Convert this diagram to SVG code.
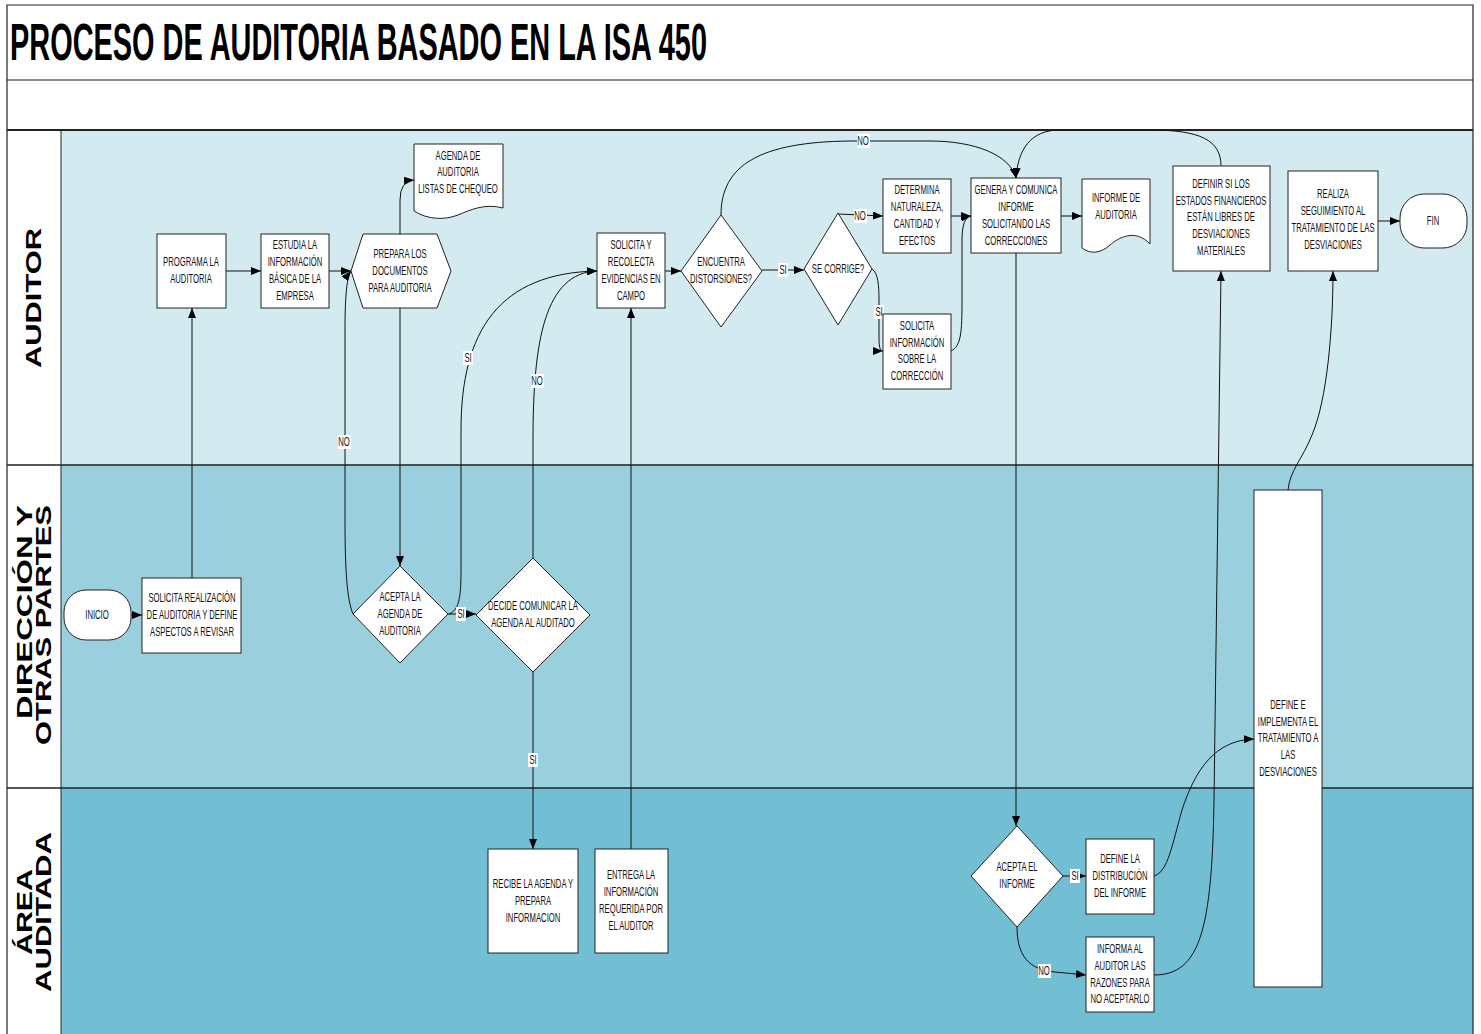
<svg xmlns="http://www.w3.org/2000/svg" width="1481" height="1034" viewBox="0 0 1481 1034">
<style>
.t{font-family:"Liberation Sans",Arial,sans-serif;font-size:12px;fill:#111;text-anchor:middle}
.n{fill:#fff;stroke:#222;stroke-width:1}
.c{fill:none;stroke:#111;stroke-width:1;marker-end:url(#arr)}
.cl{fill:none;stroke:#111;stroke-width:1}
.lb{fill:#fff}
.lane{font-family:"Liberation Sans",Arial,sans-serif;font-weight:bold;font-size:22px;fill:#000}
.b{stroke:#222;fill:none}
</style>
<defs>
<marker id="arr" viewBox="0 0 10 8" refX="10" refY="4" markerUnits="userSpaceOnUse" markerWidth="10" markerHeight="8" orient="auto">
<path d="M0,0 L10,4 L0,8 Z" fill="#000"/>
</marker>
</defs>
<rect x="0" y="0" width="1481" height="1034" fill="#fff"/>
<!-- lanes -->
<rect x="61" y="130" width="1412" height="335" fill="#D2EAF0"/>
<rect x="61" y="465" width="1412" height="323" fill="#9AD0DE"/>
<rect x="61" y="788" width="1412" height="246" fill="#72BFD4"/>
<path class="b" d="M7,1034 V5 H1473 V1034" stroke-width="1.2"/>
<path class="b" d="M7,80 H1473" stroke-width="1.2"/>
<path class="b" d="M7,130 H1473" stroke-width="2"/>
<path class="b" d="M7,465 H1473 M7,788 H1473" stroke-width="1.5"/>
<path class="b" d="M61,130 V1034" stroke-width="1" stroke="#777"/>
<text x="10" y="60" font-family="'Liberation Sans',Arial,sans-serif" font-weight="bold" font-size="52" textLength="697" lengthAdjust="spacingAndGlyphs">PROCESO DE AUDITORIA BASADO EN LA ISA 450</text>
<g id="lane-labels">
<text class="lane" transform="translate(41,298) rotate(-90)" text-anchor="middle" textLength="140" lengthAdjust="spacingAndGlyphs">AUDITOR</text>
<text class="lane" transform="translate(32,505) rotate(-90)" text-anchor="end" textLength="214" lengthAdjust="spacingAndGlyphs">DIRECCIÓN Y</text>
<text class="lane" transform="translate(51,505) rotate(-90)" text-anchor="end" textLength="240" lengthAdjust="spacingAndGlyphs">OTRAS PARTES</text>
<text class="lane" transform="translate(32,912) rotate(-90)" text-anchor="middle" textLength="86" lengthAdjust="spacingAndGlyphs">ÁREA</text>
<text class="lane" transform="translate(51,912) rotate(-90)" text-anchor="middle" textLength="160" lengthAdjust="spacingAndGlyphs">AUDITADA</text>
</g>
<!-- connectors -->
<g id="connectors">
<path class="c" d="M192,578 V308"/>
<path class="c" d="M131,615 H142"/>
<path class="c" d="M226,271 H261"/>
<path class="c" d="M329,271 H351"/>
<path class="c" d="M400,234 V200 Q400,181 414,180"/>
<path class="c" d="M400,308 V566"/>
<path class="c" d="M353,614 C347,600 345,570 345,520 L345,330 C345,295 347,276 351,271"/>
<path class="c" d="M448,614 H476"/>
<path class="c" d="M449,614 C459,610 461,598 461,570 L461,430 C461,330 500,273 597,271"/>
<path class="c" d="M533,558 V440 C533,340 545,273 597,271"/>
<path class="c" d="M533,672 V849"/>
<path class="c" d="M631,849 V308"/>
<path class="c" d="M665,271 H681"/>
<path class="c" d="M762,270 H804"/>
<path class="c" d="M721,215 C721,165 760,142 850,141 L930,141 C975,141 1010,155 1016,178"/>
<path class="c" d="M838,214 L883,216"/>
<path class="c" d="M872,269 C878,273 879,285 879,300 L879,338 C879,347 880,351 883,351"/>
<path class="c" d="M951,216 H971"/>
<path class="c" d="M951,351 C961,346 962,333 962,300 L962,240 C962,225 965,217 971,216"/>
<path class="c" d="M1061,216 H1082"/>
<path class="c" d="M1016,253 V826"/>
<path class="c" d="M1063,876 H1086"/>
<path class="c" d="M1017,927 C1017,962 1035,970 1055,972 L1086,975"/>
<path class="c" d="M1154,876 C1168,872 1172,845 1182,810 C1195,770 1215,740 1254,739"/>
<path class="c" d="M1154,975 C1200,975 1212,930 1214,800 L1221,271"/>
<path class="c" d="M1288,490 C1290,470 1302,460 1312,435 C1327,400 1333,330 1333,271"/>
<path class="c" d="M1221,166 C1221,140 1200,130 1150,130 L1060,130 C1030,130 1018,150 1016,178"/>
<path class="c" d="M1378,221 H1400"/>
<!-- labels -->
<g>
<rect class="lb" x="338" y="435" width="13" height="14"/><text class="t" transform="translate(344,0) scale(.64,1)" y="446">NO</text>
<rect class="lb" x="463" y="351" width="10" height="14"/><text class="t" transform="translate(468,0) scale(.64,1)" y="362">SI</text>
<rect class="lb" x="531" y="374" width="13" height="14"/><text class="t" transform="translate(537,0) scale(.64,1)" y="385">NO</text>
<rect class="lb" x="456" y="607" width="10" height="14"/><text class="t" transform="translate(461,0) scale(.64,1)" y="618">SI</text>
<rect class="lb" x="528" y="753" width="10" height="14"/><text class="t" transform="translate(533,0) scale(.64,1)" y="764">SI</text>
<rect class="lb" x="778" y="263" width="10" height="14"/><text class="t" transform="translate(783,0) scale(.64,1)" y="274">SI</text>
<rect class="lb" x="857" y="134" width="13" height="14"/><text class="t" transform="translate(863,0) scale(.64,1)" y="145">NO</text>
<rect class="lb" x="854" y="209" width="13" height="14"/><text class="t" transform="translate(860,0) scale(.64,1)" y="220">NO</text>
<rect class="lb" x="874" y="305" width="10" height="14"/><text class="t" transform="translate(879,0) scale(.64,1)" y="316">SI</text>
<rect class="lb" x="1070" y="869" width="10" height="14"/><text class="t" transform="translate(1075,0) scale(.64,1)" y="880">SI</text>
<rect class="lb" x="1038" y="964" width="13" height="14"/><text class="t" transform="translate(1044,0) scale(.64,1)" y="975">NO</text>
</g>
</g>
<!-- nodes -->
<g id="programa"><rect class="n" x="157" y="234" width="69" height="74"/>
<text class="t" transform="translate(191,0) scale(.64,1)"><tspan x="0" y="266">PROGRAMA LA</tspan><tspan x="0" y="283">AUDITORIA</tspan></text></g>
<g id="estudia"><rect class="n" x="261" y="234" width="68" height="74"/>
<text class="t" transform="translate(295,0) scale(.64,1)"><tspan x="0" y="249">ESTUDIA LA</tspan><tspan x="0" y="266">INFORMACIÓN</tspan><tspan x="0" y="283">BÁSICA DE LA</tspan><tspan x="0" y="300">EMPRESA</tspan></text></g>
<g id="prepara"><polygon class="n" points="351,271 363,234 437,234 451,271 437,308 363,308"/>
<text class="t" transform="translate(400,0) scale(.64,1)"><tspan x="0" y="258">PREPARA LOS</tspan><tspan x="0" y="275">DOCUMENTOS</tspan><tspan x="0" y="292">PARA AUDITORIA</tspan></text></g>
<g id="agenda"><path class="n" d="M414,144 H503 V208 C485,203 470,210 458,215 C445,220 428,220 414,211 Z"/>
<text class="t" transform="translate(458,0) scale(.64,1)"><tspan x="0" y="160">AGENDA DE</tspan><tspan x="0" y="176">AUDITORIA</tspan><tspan x="0" y="193">LISTAS DE CHEQUEO</tspan></text></g>
<g id="solicita-recolecta"><rect class="n" x="597" y="233" width="68" height="75"/>
<text class="t" transform="translate(631,0) scale(.64,1)"><tspan x="0" y="249">SOLICITA Y</tspan><tspan x="0" y="266">RECOLECTA</tspan><tspan x="0" y="283">EVIDENCIAS EN</tspan><tspan x="0" y="300">CAMPO</tspan></text></g>
<g id="encuentra"><polygon class="n" points="721,215 762,271 721,327 681,271"/>
<text class="t" transform="translate(721,0) scale(.64,1)"><tspan x="0" y="266">ENCUENTRA</tspan><tspan x="0" y="283">DISTORSIONES?</tspan></text></g>
<g id="se-corrige"><polygon class="n" points="838,213 872,269 838,325 804,269"/>
<text class="t" transform="translate(838,0) scale(.64,1)"><tspan x="0" y="273">SE CORRIGE?</tspan></text></g>
<g id="determina"><rect class="n" x="883" y="179" width="68" height="74"/>
<text class="t" transform="translate(917,0) scale(.64,1)"><tspan x="0" y="194">DETERMINA</tspan><tspan x="0" y="211">NATURALEZA,</tspan><tspan x="0" y="228">CANTIDAD Y</tspan><tspan x="0" y="245">EFECTOS</tspan></text></g>
<g id="solicita-info"><rect class="n" x="883" y="314" width="68" height="75"/>
<text class="t" transform="translate(917,0) scale(.64,1)"><tspan x="0" y="330">SOLICITA</tspan><tspan x="0" y="347">INFORMACIÓN</tspan><tspan x="0" y="363">SOBRE LA</tspan><tspan x="0" y="380">CORRECCIÓN</tspan></text></g>
<g id="genera"><rect class="n" x="971" y="178" width="90" height="75"/>
<text class="t" transform="translate(1016,0) scale(.64,1)"><tspan x="0" y="194">GENERA Y COMUNICA</tspan><tspan x="0" y="211">INFORME</tspan><tspan x="0" y="228">SOLICITANDO LAS</tspan><tspan x="0" y="245">CORRECCIONES</tspan></text></g>
<g id="informe"><path class="n" d="M1082,179 H1150 V244 C1135,228 1118,238 1110,245 C1100,254 1090,254 1082,248 Z"/>
<text class="t" transform="translate(1116,0) scale(.64,1)"><tspan x="0" y="202">INFORME DE</tspan><tspan x="0" y="219">AUDITORIA</tspan></text></g>
<g id="definir"><rect class="n" x="1173" y="166" width="97" height="105"/>
<text class="t" transform="translate(1221,0) scale(.64,1)"><tspan x="0" y="188">DEFINIR SI LOS</tspan><tspan x="0" y="205">ESTADOS FINANCIEROS</tspan><tspan x="0" y="221">ESTÁN LIBRES DE</tspan><tspan x="0" y="238">DESVIACIONES</tspan><tspan x="0" y="255">MATERIALES</tspan></text></g>
<g id="realiza"><rect class="n" x="1288" y="171" width="90" height="100"/>
<text class="t" transform="translate(1333,0) scale(.64,1)"><tspan x="0" y="198">REALIZA</tspan><tspan x="0" y="215">SEGUIMIENTO AL</tspan><tspan x="0" y="232">TRATAMIENTO DE LAS</tspan><tspan x="0" y="249">DESVIACIONES</tspan></text></g>
<g id="fin"><rect class="n" x="1400" y="194" width="67" height="54" rx="24" ry="24"/>
<text class="t" transform="translate(1433,0) scale(.64,1)"><tspan x="0" y="225">FIN</tspan></text></g>
<g id="inicio"><rect class="n" x="64" y="590" width="67" height="50" rx="22" ry="22"/>
<text class="t" transform="translate(97,0) scale(.64,1)"><tspan x="0" y="619">INICIO</tspan></text></g>
<g id="solicita-realizacion"><rect class="n" x="142" y="578" width="99" height="75"/>
<text class="t" transform="translate(192,0) scale(.64,1)"><tspan x="0" y="602">SOLICITA REALIZACIÓN</tspan><tspan x="0" y="619">DE AUDITORIA Y DEFINE</tspan><tspan x="0" y="636">ASPECTOS A REVISAR</tspan></text></g>
<g id="acepta-agenda"><polygon class="n" points="400,566 448,614 400,663 353,614"/>
<text class="t" transform="translate(400,0) scale(.64,1)"><tspan x="0" y="601">ACEPTA LA</tspan><tspan x="0" y="618">AGENDA DE</tspan><tspan x="0" y="635">AUDITORIA</tspan></text></g>
<g id="decide"><polygon class="n" points="533,558 590,615 533,672 476,615"/>
<text class="t" transform="translate(533,0) scale(.64,1)"><tspan x="0" y="610">DECIDE COMUNICAR LA</tspan><tspan x="0" y="627">AGENDA AL AUDITADO</tspan></text></g>
<g id="recibe"><rect class="n" x="488" y="849" width="90" height="104"/>
<text class="t" transform="translate(533,0) scale(.64,1)"><tspan x="0" y="888">RECIBE LA AGENDA Y</tspan><tspan x="0" y="905">PREPARA</tspan><tspan x="0" y="922">INFORMACION</tspan></text></g>
<g id="entrega"><rect class="n" x="595" y="849" width="73" height="104"/>
<text class="t" transform="translate(631,0) scale(.64,1)"><tspan x="0" y="879">ENTREGA LA</tspan><tspan x="0" y="896">INFORMACIÓN</tspan><tspan x="0" y="913">REQUERIDA POR</tspan><tspan x="0" y="930">EL AUDITOR</tspan></text></g>
<g id="acepta-informe"><polygon class="n" points="1017,826 1063,876 1017,927 971,876"/>
<text class="t" transform="translate(1017,0) scale(.64,1)"><tspan x="0" y="871">ACEPTA EL</tspan><tspan x="0" y="888">INFORME</tspan></text></g>
<g id="define-distribucion"><rect class="n" x="1086" y="839" width="68" height="75"/>
<text class="t" transform="translate(1120,0) scale(.64,1)"><tspan x="0" y="863">DEFINE LA</tspan><tspan x="0" y="880">DISTRIBUCIÓN</tspan><tspan x="0" y="897">DEL INFORME</tspan></text></g>
<g id="informa-auditor"><rect class="n" x="1086" y="937" width="68" height="75"/>
<text class="t" transform="translate(1120,0) scale(.64,1)"><tspan x="0" y="953">INFORMA AL</tspan><tspan x="0" y="970">AUDITOR LAS</tspan><tspan x="0" y="987">RAZONES PARA</tspan><tspan x="0" y="1003">NO ACEPTARLO</tspan></text></g>
<g id="define-implementa"><rect class="n" x="1254" y="490" width="68" height="497"/>
<text class="t" transform="translate(1288,0) scale(.64,1)"><tspan x="0" y="709">DEFINE E</tspan><tspan x="0" y="726">IMPLEMENTA EL</tspan><tspan x="0" y="742">TRATAMIENTO A</tspan><tspan x="0" y="759">LAS</tspan><tspan x="0" y="776">DESVIACIONES</tspan></text></g>
</svg>
